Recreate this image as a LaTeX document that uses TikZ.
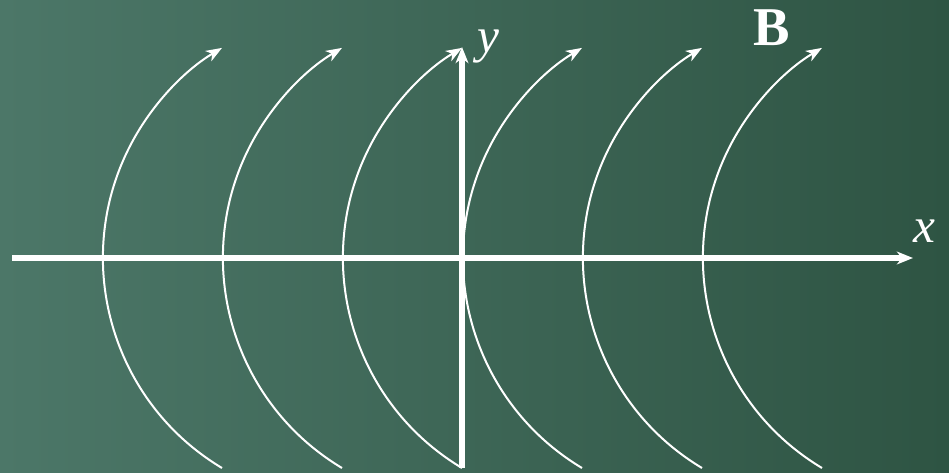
\documentclass[tikz,border=0pt]{standalone}
\usepackage{fontspec}
\setmainfont{Liberation Serif}
\usepackage{tikz}
\usetikzlibrary{arrows.meta}

\definecolor{boardleft}{RGB}{76,119,104}
\definecolor{boardright}{RGB}{46,84,67}

\begin{document}
\begin{tikzpicture}[x=0.75pt, y=0.75pt,
  axis/.style={white, line width=4pt, -{Stealth[length=12pt,width=9.5pt,inset=3.5pt]}},
  fieldline/.style={white, line width=1.5pt, -{Stealth[length=12pt,width=9pt,inset=3.5pt]}},
  axislabel/.style={white, inner sep=0pt, anchor=base}]
  % Board
  \shade[left color=boardleft, right color=boardright] (0,0) rectangle (949,472);
  \useasboundingbox (0,0) rectangle (949,472);
  % Field lines
  \coordinate (b1) at (222,4);
  \coordinate (b2) at (342,4);
  \coordinate (b3) at (462,4);
  \coordinate (b4) at (582,4);
  \coordinate (b5) at (702,4);
  \coordinate (b6) at (822,4);
  \draw[fieldline] (b1) arc[start angle=239.1, end angle=120.9, radius=244.8];
  \draw[fieldline] (b2) arc[start angle=239.1, end angle=120.9, radius=244.8];
  \draw[fieldline] (b3) arc[start angle=239.1, end angle=120.9, radius=244.8];
  \draw[fieldline] (b4) arc[start angle=239.1, end angle=120.9, radius=244.8];
  \draw[fieldline] (b5) arc[start angle=239.1, end angle=120.9, radius=244.8];
  \draw[fieldline] (b6) arc[start angle=239.1, end angle=120.9, radius=244.8];
  % Axes
  \coordinate (xstart) at (12,214);
  \coordinate (xend) at (913,214);
  \coordinate (ystart) at (462,4);
  \coordinate (yend) at (462,425);
  \draw[axis] (xstart) -- (xend);
  \draw[axis] (ystart) -- (yend);
  % Labels
  \node[axislabel, font=\fontsize{37}{37}\selectfont\itshape] (xlab) at (924,230) {x};
  \node[axislabel, font=\fontsize{37}{37}\selectfont\itshape] (ylab) at (488,419) {y};
  \node[axislabel, font=\fontsize{41}{41}\selectfont\bfseries] (blab) at (772,426) {B};
\end{tikzpicture}
\end{document}
